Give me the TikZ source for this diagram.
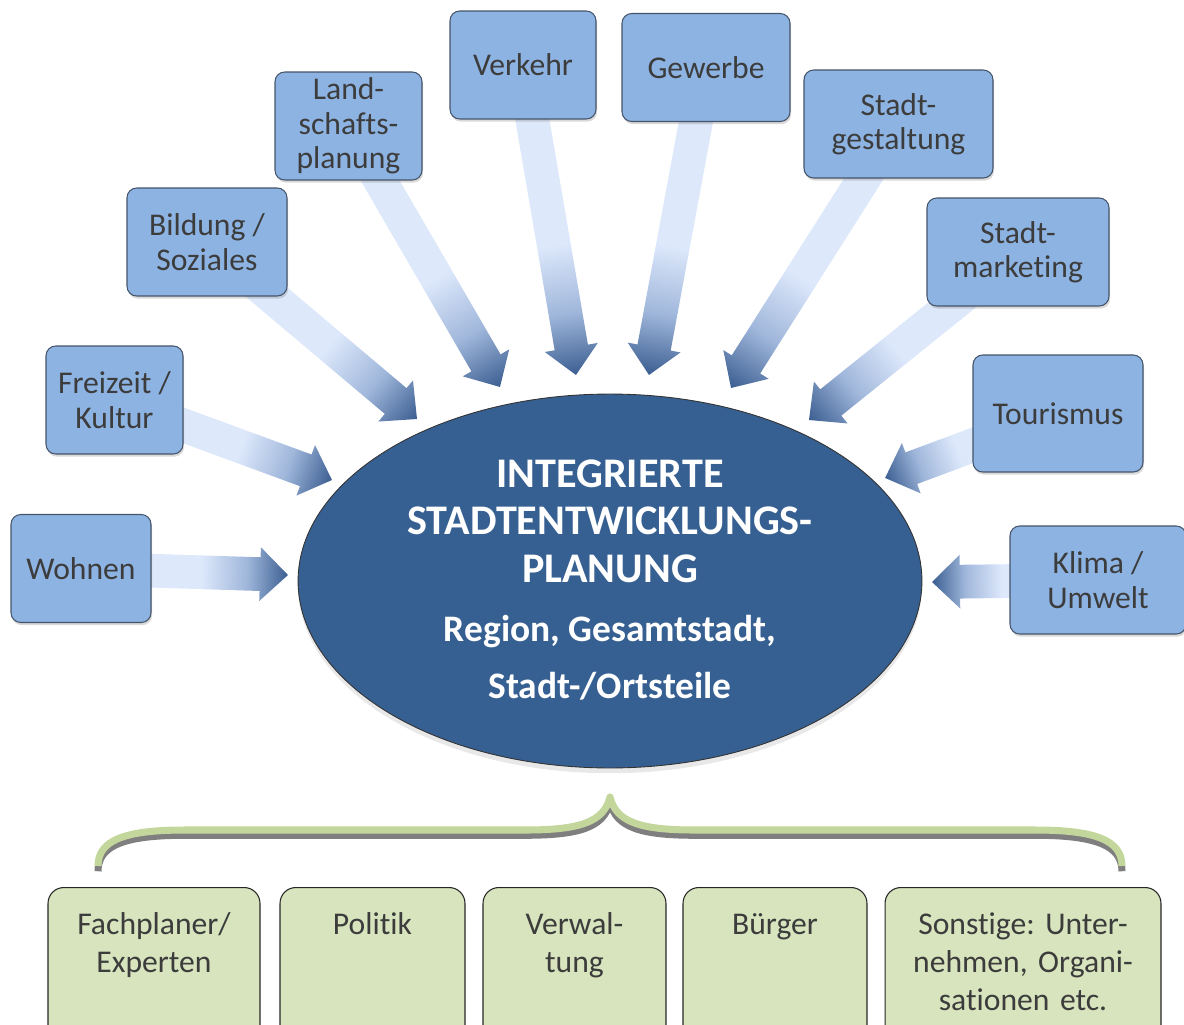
\documentclass[tikz,border=0pt]{standalone}
\usepackage{fontspec}
\setmainfont{Carlito}[Ligatures=NoCommon]
\frenchspacing
\usetikzlibrary{calc,shapes.geometric,shadows}

\definecolor{themeblue}{RGB}{141,179,226}
\definecolor{themeline}{RGB}{68,84,106}
\definecolor{labelgray}{RGB}{60,60,60}
\definecolor{coreblue}{RGB}{55,96,146}
\definecolor{actorgreen}{RGB}{215,228,189}
\definecolor{bracegreen}{RGB}{195,214,155}
\definecolor{braceshade}{RGB}{127,127,127}
\definecolor{feedlight}{RGB}{221,232,251}
\definecolor{feedmid}{RGB}{160,183,219}
\definecolor{feeddark}{RGB}{59,94,145}

\pgfdeclarehorizontalshading{feedfade}{100bp}{color(0bp)=(feedlight); color(54bp)=(feedlight); color(65bp)=(feedmid); color(75bp)=(feeddark); color(100bp)=(feeddark)}
\pgfdeclarelayer{background}
\pgfsetlayers{background,main}

% block arrow from the centre of a box to a tip coordinate
\newcommand\inflow[2]{%
  \path let \p1=(#1.center), \p2=(#2) in \pgfextra{%
    \pgfmathsetmacro\inflowang{atan2(\y2-\y1,\x2-\x1)}\xdef\inflowang{\inflowang}%
    \pgfmathsetmacro\inflowlen{veclen(\x2-\x1,\y2-\y1)}\xdef\inflowlen{\inflowlen}};
  \begin{scope}[transform canvas={shift={(#1.center)},rotate=\inflowang}]
    \shade[shading=feedfade] (0pt,-9.6pt) -- ({\inflowlen pt-15.9pt},-9.6pt) -- ({\inflowlen pt-15.9pt},-15.3pt)
      -- (\inflowlen pt,0pt) -- ({\inflowlen pt-15.9pt},15.3pt) -- ({\inflowlen pt-15.9pt},9.6pt) -- (0pt,9.6pt) -- cycle;
  \end{scope}}

\begin{document}
\begin{tikzpicture}[x=0.02cm,y=-0.02cm]
  \tikzstyle{theme}=[rectangle,rounded corners=5.5pt,draw=themeline,line width=0.6pt,fill=themeblue,text=labelgray,
    align=center,inner sep=0pt,minimum height=2.16cm,font=\fontsize{18}{19.6}\selectfont,
    drop shadow={opacity=0.3,shadow xshift=0.6pt,shadow yshift=-1.5pt}]
  \tikzstyle{core}=[ellipse,fill=coreblue,draw=black!80,line width=0.5pt,inner sep=0pt,
    minimum width=12.48cm,minimum height=7.48cm,drop shadow={opacity=0.18,shadow xshift=0pt,shadow yshift=-3pt}]
  \tikzstyle{coretitle}=[text=white,align=center,inner sep=0pt,font=\fontsize{24}{27}\selectfont\bfseries]
  \tikzstyle{corescope}=[text=white,align=center,inner sep=0pt,font=\fontsize{21.3}{32.3}\selectfont\bfseries]
  \tikzstyle{actor}=[rectangle,rounded corners=9pt,draw=black!85,line width=0.6pt,fill=actorgreen,text=labelgray,
    align=center,anchor=north,inner xsep=0pt,inner ysep=14pt,text height=12.6pt,text depth=60pt,
    font=\fontsize{18}{21.8}\selectfont]

  \useasboundingbox (0,0) rectangle (1184,1025);
  \clip (0,0) rectangle (1184,1025);

  % topics around the centre
  \node[theme,minimum width=2.80cm] (wohnen) at (81,568.5) {Wohnen};
  \node[theme,minimum width=2.74cm] (freizeit) at (114.5,400) {Freizeit /\\Kultur};
  \node[theme,minimum width=3.20cm] (bildung) at (207,242) {Bildung /\\Soziales};
  \node[theme,minimum width=2.94cm] (landschaft) at (348.5,126) {Land-\\schafts-\\planung};
  \node[theme,minimum width=2.92cm] (verkehr) at (523,65) {Verkehr};
  \node[theme,minimum width=3.36cm] (gewerbe) at (706,67.5) {Gewerbe};
  \node[theme,minimum width=3.78cm] (gestaltung) at (898.5,124) {Stadt-\\gestaltung};
  \node[theme,minimum width=3.64cm] (marketing) at (1018,252) {Stadt-\\marketing};
  \node[theme,minimum width=3.40cm,minimum height=2.34cm] (tourismus) at (1058,413.5) {Tourismus};
  \node[theme,minimum width=3.52cm] (klima) at (1098,580) {Klima /\\Umwelt};

  \node[core] (core) at (610,581) {};
  \node[coretitle] (title) at (610,521) {INTEGRIERTE\\STADTENTWICKLUNGS-\\PLANUNG};
  \node[corescope] (coverage) at (610,658) {Region, Gesamtstadt,\\Stadt-/Ortsteile};

  \coordinate (tipWohnen) at (288,575);
  \coordinate (tipFreizeit) at (332,480);
  \coordinate (tipBildung) at (417,419);
  \coordinate (tipLandschaft) at (500,387);
  \coordinate (tipVerkehr) at (576,375);
  \coordinate (tipGewerbe) at (649,375);
  \coordinate (tipGestaltung) at (731,388);
  \coordinate (tipMarketing) at (809,420);
  \coordinate (tipTourismus) at (885,478);
  \coordinate (tipKlima) at (932,582);

  \begin{pgfonlayer}{background}
    \inflow{wohnen}{tipWohnen}
    \inflow{freizeit}{tipFreizeit}
    \inflow{bildung}{tipBildung}
    \inflow{landschaft}{tipLandschaft}
    \inflow{verkehr}{tipVerkehr}
    \inflow{gewerbe}{tipGewerbe}
    \inflow{gestaltung}{tipGestaltung}
    \inflow{marketing}{tipMarketing}
    \inflow{tourismus}{tipTourismus}
    \inflow{klima}{tipKlima}
  \end{pgfonlayer}

  % brace over the actors
  \draw[braceshade,line width=4pt,line join=round,yshift=-3pt] (98,866) .. controls (98,840) and (125,830) .. (185,830) -- (525,830)
    .. controls (580,830) and (604,822) .. (610,797) .. controls (616,822) and (640,830) .. (695,830) -- (1035,830)
    .. controls (1095,830) and (1122,840) .. (1122,866);
  \draw[bracegreen,line width=4pt,line join=round] (98,866) .. controls (98,840) and (125,830) .. (185,830) -- (525,830)
    .. controls (580,830) and (604,822) .. (610,797) .. controls (616,822) and (640,830) .. (695,830) -- (1035,830)
    .. controls (1095,830) and (1122,840) .. (1122,866);

  \node[actor,text width=4.24cm] (fachplaner) at (154,887) {Fachplaner/\\Experten};
  \node[actor,text width=3.70cm] (politik) at (372.5,887) {Politik};
  \node[actor,text width=3.66cm] (verwaltung) at (574.5,887) {Verwal-\\tung};
  \node[actor,text width=3.68cm] (buerger) at (775,887) {Bürger};
  \node[actor,text width=5.52cm] (sonstige) at (1023,887) {Sonstige: Unter-\\nehmen, Organi-\\sationen etc.};
\end{tikzpicture}
\end{document}
